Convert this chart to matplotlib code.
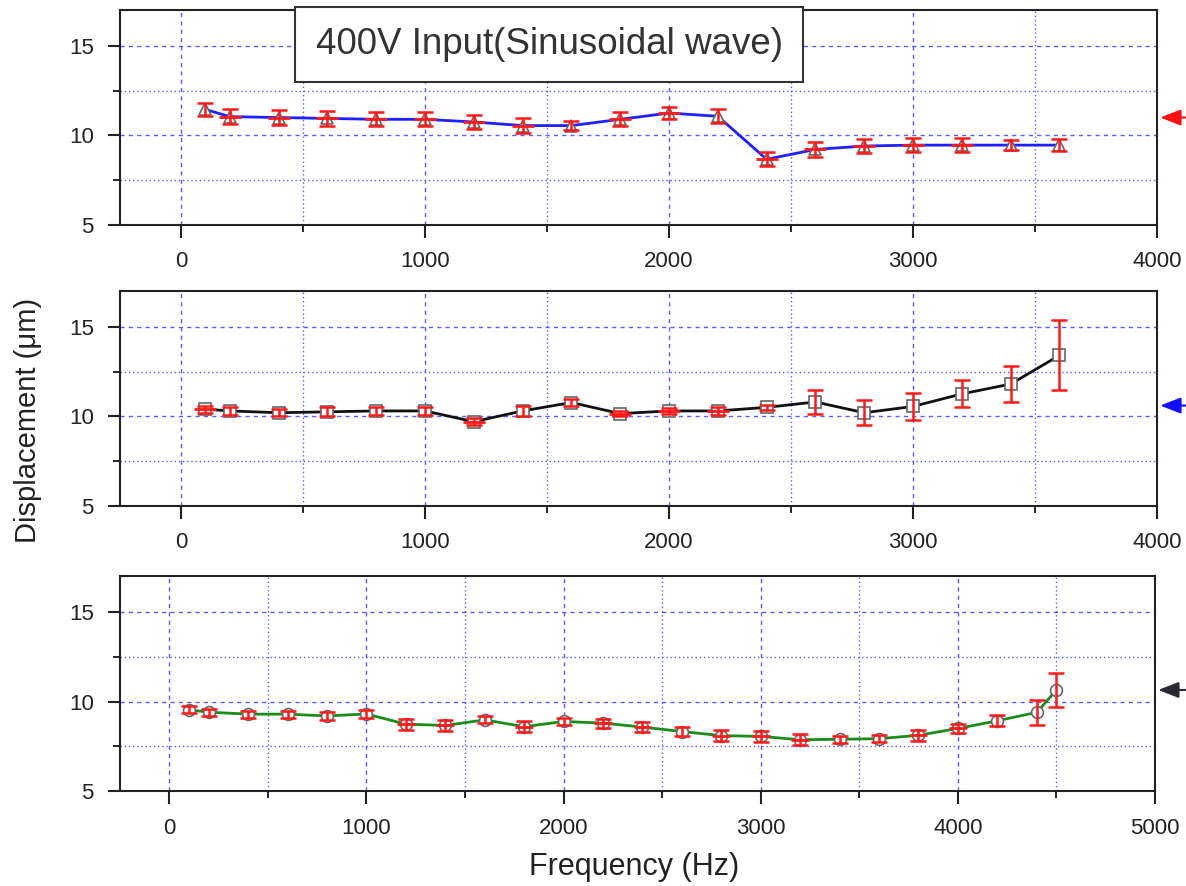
import numpy as np
import matplotlib
matplotlib.use('Agg')
import matplotlib.pyplot as plt
from matplotlib.ticker import MultipleLocator

plt.rcParams['font.family'] = ['Liberation Sans', 'DejaVu Sans']

# Data
freq_a = [100, 200, 400, 600, 800, 1000, 1200, 1400, 1600, 1800, 2000, 2200, 2400, 2600, 2800, 3000, 3200, 3400, 3600]
disp_a = [11.45, 11.05, 11.0, 10.95, 10.9, 10.9, 10.75, 10.55, 10.55, 10.9, 11.25, 11.07, 8.67, 9.22, 9.41, 9.46, 9.46, 9.46, 9.46]
yerr_a = [0.35, 0.4, 0.4, 0.4, 0.4, 0.4, 0.4, 0.4, 0.25, 0.4, 0.35, 0.4, 0.4, 0.4, 0.4, 0.4, 0.4, 0.3, 0.35]
xerr_a = [0, 45, 45, 45, 45, 45, 45, 45, 0, 45, 45, 0, 45, 45, 45, 45, 45, 0, 0]

freq_b = [100, 200, 400, 600, 800, 1000, 1200, 1400, 1600, 1800, 2000, 2200, 2400, 2600, 2800, 3000, 3200, 3400, 3600]
disp_b = [10.4, 10.3, 10.2, 10.25, 10.3, 10.3, 9.7, 10.3, 10.77, 10.15, 10.3, 10.3, 10.5, 10.8, 10.2, 10.55, 11.25, 11.8, 13.4]
yerr_b = [0.2, 0.2, 0.2, 0.25, 0.2, 0.2, 0.2, 0.3, 0.2, 0.15, 0.15, 0.2, 0.15, 0.65, 0.7, 0.75, 0.75, 1.0, 1.95]
xerr_b = [45, 0, 0, 0, 0, 0, 45, 0, 0, 45, 45, 45, 0, 0, 0, 0, 0, 0, 0]

freq_c = [100, 200, 400, 600, 800, 1000, 1200, 1400, 1600, 1800, 2000, 2200, 2400, 2600, 2800, 3000, 3200, 3400, 3600, 3800, 4000, 4200, 4400, 4500]
disp_c = [9.54, 9.41, 9.3, 9.3, 9.2, 9.31, 8.74, 8.67, 8.98, 8.6, 8.89, 8.8, 8.58, 8.33, 8.1, 8.06, 7.87, 7.9, 7.93, 8.12, 8.5, 8.93, 9.4, 10.65]
yerr_c = [0.2, 0.2, 0.2, 0.2, 0.2, 0.2, 0.3, 0.3, 0.2, 0.3, 0.2, 0.25, 0.3, 0.25, 0.3, 0.3, 0.3, 0.2, 0.2, 0.3, 0.25, 0.3, 0.68, 0.95]
xerr_c = [0, 0, 0, 0, 0, 0, 45, 45, 0, 45, 0, 45, 45, 0, 45, 45, 45, 0, 0, 45, 45, 0, 0, 0]

panels = [
    dict(x=freq_a, y=disp_a, yerr=yerr_a, xerr=xerr_a, color='#1f1fff', marker='^', xmax=4000, arrow=11.0, arrow_col='#ff1010'),
    dict(x=freq_b, y=disp_b, yerr=yerr_b, xerr=xerr_b, color='#111111', marker='s', xmax=4000, arrow=10.6, arrow_col='#1010ff'),
    dict(x=freq_c, y=disp_c, yerr=yerr_c, xerr=xerr_c, color='#1a8c1a', marker='o', xmax=5000, arrow=10.65, arrow_col='#2a2a35'),
]

fig = plt.figure(figsize=(11.86, 8.86), dpi=100)
bottoms = [0.746, 0.429, 0.107]
widths  = [0.8744, 0.8744, 0.8727]
grid_col = '#5a5aff'

for p, b, w in zip(panels, bottoms, widths):
    ax = fig.add_axes([0.1012, b, w, 0.2427])
    ax.plot(p['x'], p['y'], color=p['color'], lw=2.0, zorder=3)
    ax.plot(p['x'], p['y'], ls='none', marker=p['marker'], ms=8.5, mfc='white', mec='#666666', mew=1.2, zorder=4)
    ax.errorbar(p['x'], p['y'], yerr=p['yerr'], fmt='none', ecolor='#ff1a1a', elinewidth=1.8, capsize=6, capthick=1.8, zorder=5)
    ax.errorbar(p['x'], p['y'], xerr=p['xerr'], fmt='none', ecolor='#ff1a1a', elinewidth=2.0, capsize=0, zorder=5)
    ax.set_xlim(-250, p['xmax'])
    ax.set_ylim(5, 17)
    ax.xaxis.set_major_locator(MultipleLocator(1000))
    ax.xaxis.set_minor_locator(MultipleLocator(500))
    ax.yaxis.set_major_locator(MultipleLocator(5))
    ax.yaxis.set_minor_locator(MultipleLocator(2.5))
    ax.grid(which='major', color=grid_col, ls=(0, (3, 3)), lw=1.0)
    ax.grid(which='minor', color=grid_col, ls=(0, (1, 2)), lw=1.0)
    ax.tick_params(which='major', direction='out', length=9, width=1.5, labelsize=16, colors='#222222', pad=10)
    ax.tick_params(which='minor', direction='out', length=5, width=1.2)
    for s in ax.spines.values():
        s.set_linewidth(1.5)
        s.set_color('#222222')
    # arrow pointing at the panel from the right margin
    ax.annotate('', xy=(1.003, p['arrow']), xycoords=('axes fraction', 'data'),
                xytext=(1.06, p['arrow']), textcoords=('axes fraction', 'data'),
                arrowprops=dict(arrowstyle='-|>,head_length=0.9,head_width=0.35', mutation_scale=14,
                                color=p['arrow_col'], lw=1.5, shrinkA=0, shrinkB=0),
                annotation_clip=False)

fig.text(0.024, 0.525, 'Displacement (μm)', rotation=90, ha='center', va='center', fontsize=21, color='#222222')
fig.text(0.535, 0.004, 'Frequency (Hz)', ha='center', va='bottom', fontsize=22, color='#222222')
fig.text(0.463, 0.950, '400V Input(Sinusoidal wave)', ha='center', va='center', fontsize=26.5, color='#333333',
         bbox=dict(boxstyle='square,pad=0.55', fc='white', ec='#333333', lw=1.5), zorder=10)

fig.savefig('out.png', dpi=100)
